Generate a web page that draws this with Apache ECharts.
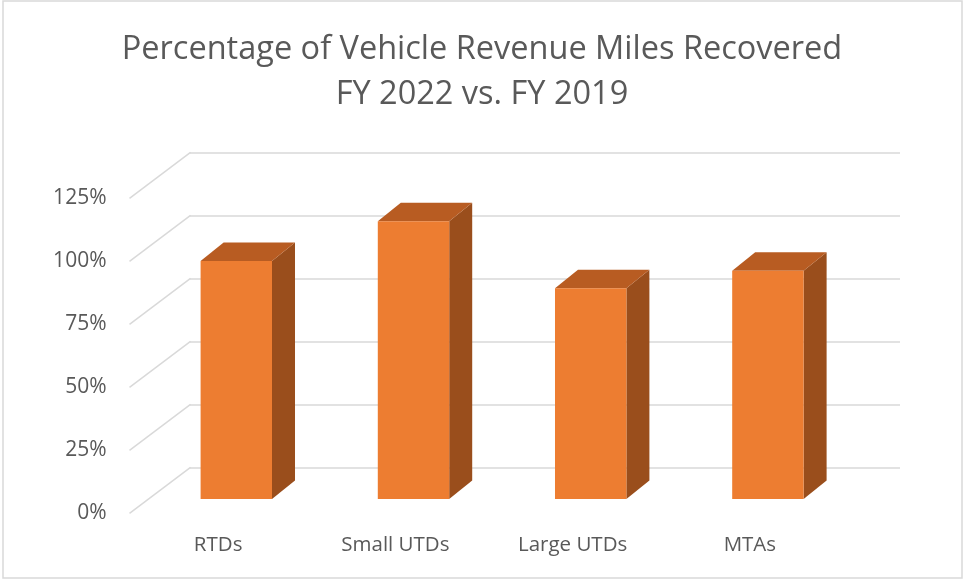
<!DOCTYPE html>
<html>
  <head>
    <meta charset="utf-8" />
    <script src="https://cdn.jsdelivr.net/npm/echarts@6.0.0/dist/echarts.min.js"></script>
    <style>
      html, body { margin: 0; padding: 0; background: #fff; }
    </style>
  </head>
  <body>
    <div id="main" style="width: 964px; height: 581px"></div>

    <script type="text/javascript">
      // chart data
      var categories = ["RTDs", "Small UTDs", "Large UTDs", "MTAs"];
      var recovered = [96, 112, 85, 92];
      var yTicks = [0, 25, 50, 75, 100, 125];

      // 3D look: floor depth + bar depth offsets (px)
      var FLOOR_DX = 61, FLOOR_DY = 46;
      var BAR_DX = 23, BAR_DY = 18.5;

      var myChart = echarts.init(document.getElementById("main"));

      var hiddenCat = function (gi) {
        return {
          type: "category", gridIndex: gi, data: categories,
          axisLine: { show: false }, axisTick: { show: false },
          axisLabel: { show: false }, splitLine: { show: false }
        };
      };
      var hiddenVal = function (gi, showSplit) {
        return {
          type: "value", gridIndex: gi, min: 0, max: 125, interval: 25,
          axisLine: { show: false }, axisTick: { show: false },
          axisLabel: { show: false },
          splitLine: { show: showSplit, lineStyle: { color: "#d9d9d9", width: 1.5 } }
        };
      };

      var frontX = hiddenCat(1);
      frontX.axisLabel = { show: true, color: "#595959", fontSize: 20.5,
        fontFamily: "Open Sans", margin: 21 };

      var frontY = hiddenVal(1, false);
      frontY.axisLabel = { show: true, color: "#595959", fontSize: 21,
        fontFamily: "Open Sans", margin: 23, formatter: "{value}%",
        padding: [6, 0, 0, 0] };

      var option = {
        animation: false,
        title: {
          text: "Percentage of Vehicle Revenue Miles Recovered\nFY 2022 vs. FY 2019",
          left: "center",
          top: 22,
          textStyle: { color: "#595959", fontSize: 32.5, fontWeight: "normal",
            fontFamily: "Open Sans", lineHeight: 45 }
        },
        graphic: [{
          type: "rect", silent: true,
          shape: { x: 3, y: 1, width: 959, height: 577 },
          style: { fill: null, stroke: "#d9d9d9", lineWidth: 1.5 }
        }],
        grid: [
          // back wall
          { left: 190, right: 64, top: 152.3, bottom: 113.7 },
          // front plane (labels + floor edges)
          { left: 129.5, right: 125.5, top: 198.3, bottom: 67.7 },
          // bars
          { left: 147.7, right: 107.5, top: 189, bottom: 82 }
        ],
        xAxis: [hiddenCat(0), frontX, hiddenCat(2)],
        yAxis: [hiddenVal(0, true), frontY, hiddenVal(2, false)],
        series: [
          {
            type: "custom",
            xAxisIndex: 1, yAxisIndex: 1,
            data: yTicks.map(function (v) { return [0, v]; }),
            renderItem: function (params, api) {
              var x = params.coordSys.x;
              var y = api.coord([0, api.value(1)])[1];
              return {
                type: "line",
                shape: { x1: x, y1: y, x2: x + FLOOR_DX, y2: y - FLOOR_DY },
                style: { stroke: "#d9d9d9", lineWidth: 1.5 }
              };
            }
          },
          {
            type: "custom",
            xAxisIndex: 2, yAxisIndex: 2,
            data: recovered.map(function (v, i) { return [i, v]; }),
            renderItem: function (params, api) {
              var base = api.coord([api.value(0), 0]);
              var top = api.coord([api.value(0), api.value(1)]);
              var w = api.size([1, 0])[0] * 0.403;
              var x0 = base[0] - w / 2, x1 = base[0] + w / 2;
              var yb = base[1], yt = top[1];
              return {
                type: "group",
                children: [
                  {
                    type: "polygon",
                    shape: { points: [[x1, yt], [x1 + BAR_DX, yt - BAR_DY],
                      [x1 + BAR_DX, yb - BAR_DY], [x1, yb]] },
                    style: { fill: "#9a4e1c" }
                  },
                  {
                    type: "polygon",
                    shape: { points: [[x0, yt], [x0 + BAR_DX, yt - BAR_DY],
                      [x1 + BAR_DX, yt - BAR_DY], [x1, yt]] },
                    style: { fill: "#b85c22" }
                  },
                  {
                    type: "rect",
                    shape: { x: x0, y: yt, width: w, height: yb - yt },
                    style: { fill: "#ed7d31" }
                  }
                ]
              };
            }
          }
        ]
      };

      myChart.setOption(option);
    </script>
  </body>
</html>
